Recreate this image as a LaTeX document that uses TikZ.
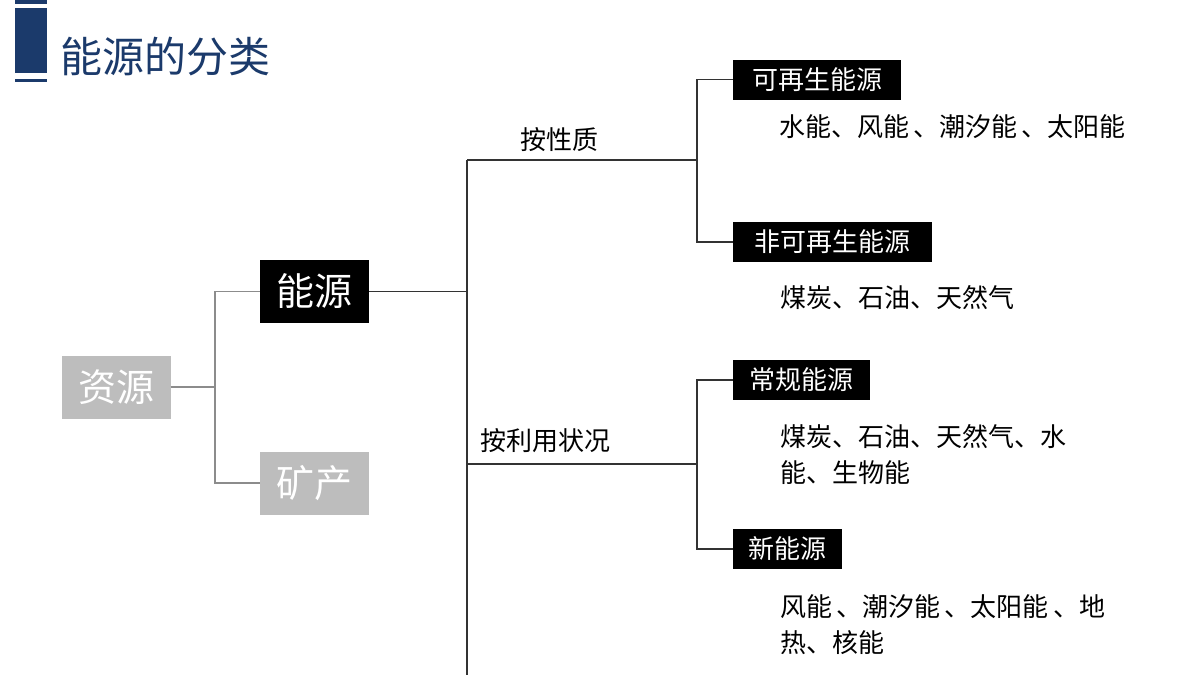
\documentclass[tikz,border=0pt]{standalone}
\usepackage{fontspec}
\setmainfont{Noto Sans CJK SC}
\definecolor{navy}{HTML}{1B3A6B}
\definecolor{lgray}{HTML}{BDBDBD}
\begin{document}
\begin{tikzpicture}[x=1pt,y=-1pt,
  big/.style={inner sep=0pt,minimum height=63pt,minimum width=109pt,text=white,font=\fontsize{38}{40}\selectfont},
  lab/.style={fill=black,text=white,inner sep=0pt,minimum height=40pt,anchor=west,font=\fontsize{26}{30}\selectfont},
  txt/.style={anchor=west,inner sep=0pt,font=\fontsize{26}{36}\selectfont,align=left},
  ln/.style={line width=1.2pt,draw=black!80},
  gl/.style={line width=1.2pt,draw=black!45}]
\useasboundingbox (0,0) rectangle (1200,675);
\fill[navy] (15,0) rectangle (47,4);
\fill[navy] (15,8) rectangle (47,73);
\fill[navy] (15,79) rectangle (47,82);
\node[anchor=west,inner sep=0pt,text=navy,font=\fontsize{42}{44}\selectfont] (title) at (60,57) {能源的分类};

\node[big,fill=lgray] (zy) at (116,387) {资源};
\node[big,fill=black] (ny) at (314.5,291.5) {能源};
\node[big,fill=lgray] (kc) at (314.5,483) {矿产};
\coordinate (j1) at (215,387);
\draw[gl] (zy.east) -- (j1);
\draw[gl] (j1) |- (ny.west);
\draw[gl] (j1) |- (kc.west);

\coordinate (j2) at (467,291.5);
\coordinate (top2) at (467,160);
\coordinate (bot2) at (467,675);
\coordinate (a) at (697,160);
\coordinate (b) at (697,464);
\draw[ln] (ny.east) -- (j2);
\draw[ln] (top2) -- (bot2);
\draw[ln] (top2) -- (a);
\draw[ln] (467,464) -- (b);
\node[txt] (p1) at (520,140) {按性质};
\node[txt] (p2) at (480,441) {按利用状况};

\node[lab,minimum width=168pt] (k1) at (733,79.5) {可再生能源};
\node[lab,minimum width=199pt] (k2) at (733,242) {非可再生能源};
\node[lab,minimum width=137pt] (k3) at (733,380) {常规能源};
\node[lab,minimum width=109pt] (k4) at (733,549) {新能源};
\draw[ln] (a) |- (k1.west);
\draw[ln] (a) |- (k2.west);
\draw[ln] (b) |- (k3.west);
\draw[ln] (b) |- (k4.west);

\node[txt] (t1) at (779,127) {水能、风能\,、潮汐能\,、太阳能};
\node[txt] (t2) at (780,298) {煤炭、石油、天然气};
\node[txt] (t3) at (780,455) {煤炭、石油、天然气、水\\能、生物能};
\node[txt] (t4) at (780,625) {风能\,、潮汐能\,、太阳能\,、地\\热、核能};
\end{tikzpicture}
\end{document}
